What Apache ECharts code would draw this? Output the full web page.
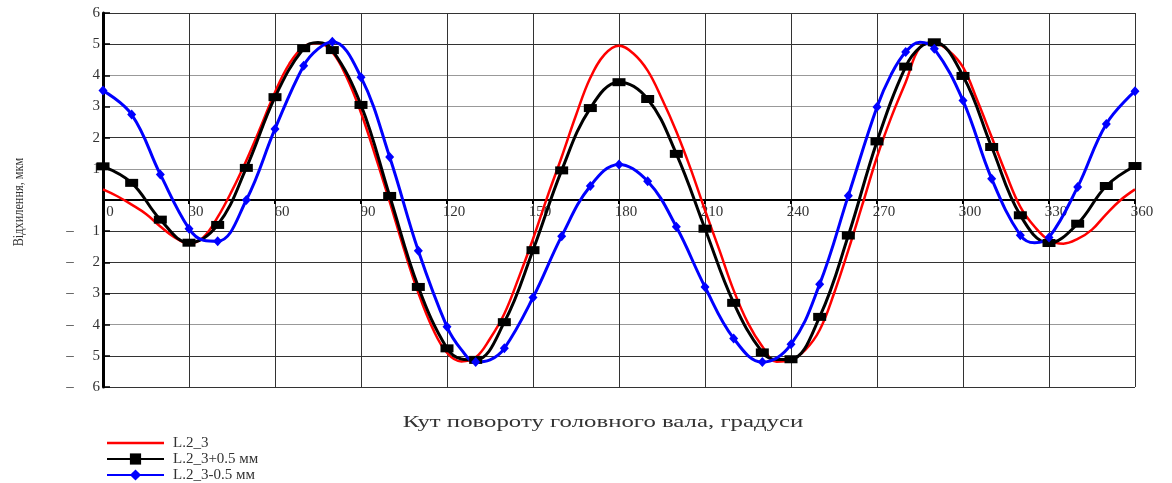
<!DOCTYPE html>
<html>
<head>
<meta charset="UTF-8">
<title>Відхилення</title>
<script src="https://cdn.jsdelivr.net/npm/echarts@6/dist/echarts.min.js"></script>
<style>html,body{margin:0;padding:0;background:#fff;}</style>
</head>
<body>
<div id="chart" style="width:1172px;height:483px;"></div>
<script>
// назви серій та підписи осей
const seriesNames = ['L.2_3', 'L.2_3+0.5 мм', 'L.2_3-0.5 мм'];
const yTitle = 'Відхилення, мкм';
const xTitle = 'Кут повороту головного вала, градуси';

// [кут, відхилення]
const red = [[0,0.34],[5,0.12],[10,-0.15],[15,-0.45],[20,-0.85],[25,-1.2],[30,-1.4],[35,-1.2],
  [40,-0.55],[45,0.3],[50,1.27],[55,2.34],[60,3.46],[65,4.37],[70,4.92],[75,5.04],[80,4.74],
  [85,3.94],[90,2.8],[95,1.42],[100,-0.05],[105,-1.58],[110,-2.98],[115,-4.12],[120,-4.9],
  [125,-5.18],[130,-5.05],[135,-4.45],[140,-3.65],[145,-2.5],[150,-1.25],[155,0.1],[160,1.38],
  [165,2.72],[170,3.92],[175,4.67],[180,4.95],[185,4.7],[190,4.15],[195,3.24],[200,2.2],
  [205,1.0],[210,-0.33],[215,-1.6],[220,-2.9],[225,-3.95],[230,-4.7],[235,-5.19],[240,-5.13],
  [245,-4.81],[250,-4.17],[255,-3.0],[260,-1.61],[265,-0.12],[270,1.38],[275,2.66],[280,3.78],
  [285,4.9],[290,5.04],[295,4.79],[300,4.26],[305,3.19],[310,2.02],[315,0.84],[320,-0.22],
  [325,-0.86],[330,-1.29],[335,-1.4],[340,-1.25],[345,-0.95],[350,-0.45],[355,0.0],[360,0.34]];

const black = [[0,1.08],[10,0.55],[20,-0.63],[30,-1.37],[40,-0.8],[50,1.03],[60,3.3],[70,4.87],
  [75,5.05],[80,4.81],[90,3.05],[100,0.13],[110,-2.79],[120,-4.76],[125,-5.1],[130,-5.13],
  [140,-3.92],[150,-1.61],[160,0.95],[170,2.95],[180,3.78],[190,3.24],[200,1.48],[210,-0.92],
  [220,-3.3],[230,-4.89],[235,-5.12],[240,-5.11],[250,-3.75],[260,-1.14],[270,1.88],[280,4.28],
  [285,4.9],[290,5.06],[300,3.98],[310,1.7],[320,-0.49],[330,-1.38],[340,-0.76],[350,0.45],[360,1.09]];

const blue = [[0,3.51],[10,2.74],[20,0.82],[30,-0.92],[35,-1.29],[40,-1.32],[50,0.0],[60,2.28],
  [70,4.31],[75,4.85],[80,5.08],[90,3.94],[100,1.38],[110,-1.63],[120,-4.07],[125,-4.8],
  [130,-5.2],[135,-5.13],[140,-4.76],[150,-3.13],[160,-1.16],[170,0.45],[180,1.14],[190,0.6],
  [200,-0.86],[210,-2.79],[220,-4.44],[230,-5.2],[240,-4.63],[250,-2.7],[260,0.14],[270,2.98],
  [275,4.04],[280,4.75],[285,5.06],[290,4.85],[300,3.19],[310,0.68],[320,-1.13],[325,-1.37],
  [330,-1.2],[340,0.42],[350,2.44],[360,3.49]];

const serif = '"Liberation Serif", "DejaVu Serif", serif';

// маркери тільки кожні 10 градусів
function withMarks(arr, sym) {
  return arr.map(p => ({ value: p, symbol: p[0] % 10 === 0 ? sym : 'none' }));
}

const chart = echarts.init(document.getElementById('chart'));

const option = {
  animation: false,
  backgroundColor: '#fff',
  grid: { left: 103, right: 37, top: 13, bottom: 96, outerBoundsMode: 'none' },
  legend: {
    orient: 'vertical',
    left: 106,
    top: 435,
    height: 80,
    padding: 0,
    itemGap: 0,
    itemWidth: 57,
    itemHeight: 14,
    textStyle: { fontFamily: serif, fontSize: 15, lineHeight: 16, color: '#333', padding: [0, 0, 0, 4] },
    data: [
      { name: seriesNames[0], icon: 'path://M0,0 L57,0 L57,2.5 L0,2.5 Z' },
      seriesNames[1],
      seriesNames[2]
    ]
  },
  xAxis: {
    type: 'value',
    min: 0,
    max: 360,
    interval: 30,
    offset: -187, // вісь проходить через нуль разом з підписами
    axisLine: { onZero: false, lineStyle: { color: '#000', width: 2 } },
    axisTick: { show: true, length: 4, lineStyle: { color: '#000', width: 2 } },
    axisLabel: {
      fontFamily: serif, fontSize: 15, color: '#333', margin: 5,
      padding: [0, 0, 0, 14]
    },
    splitLine: { show: true, lineStyle: { color: '#333', width: 1 } }
  },
  yAxis: {
    type: 'value',
    min: -6,
    max: 6,
    interval: 1,
    axisLine: { show: true, onZero: false, lineStyle: { color: '#000', width: 3 } },
    axisTick: { show: true, inside: true, length: 7, lineStyle: { color: '#000', width: 1.5 } },
    axisLabel: {
      fontFamily: serif, fontSize: 15, color: '#333', margin: 3,
      formatter: v => v === 0 ? '' : (v < 0 ? '–     ' + (-v) : String(v))
    },
    splitLine: {
      show: true,
      lineStyle: {
        color: ['#333', '#333', '#999', '#333', '#333', '#333', '#333',
                '#999', '#333', '#999', '#999', '#333', '#333'],
        width: 1
      }
    }
  },
  graphic: [
    {
      type: 'text', x: 19, y: 202, rotation: Math.PI / 2, scaleX: 0.82,
      style: { text: yTitle, font: '15px ' + serif, fill: '#333', align: 'center', verticalAlign: 'middle' }
    },
    {
      type: 'text', x: 603, y: 423, scaleX: 1.55,
      style: { text: xTitle, font: '16px ' + serif, fill: '#333', align: 'center', verticalAlign: 'middle' }
    }
  ],
  series: [
    {
      name: seriesNames[0], type: 'line', data: red, smooth: 0.4,
      symbol: 'none', showSymbol: false,
      lineStyle: { color: '#ff0000', width: 2.5 }, itemStyle: { color: '#ff0000' }
    },
    {
      name: seriesNames[1], type: 'line', data: withMarks(black, 'rect'), smooth: 0.4,
      symbol: 'rect', symbolSize: [13, 8],
      lineStyle: { color: '#000', width: 3 }, itemStyle: { color: '#000' }
    },
    {
      name: seriesNames[2], type: 'line', data: withMarks(blue, 'diamond'), smooth: 0.4,
      symbol: 'diamond', symbolSize: [9, 10],
      lineStyle: { color: '#0000ff', width: 3 }, itemStyle: { color: '#0000ff' }
    }
  ]
};

chart.setOption(option);
</script>
</body>
</html>
